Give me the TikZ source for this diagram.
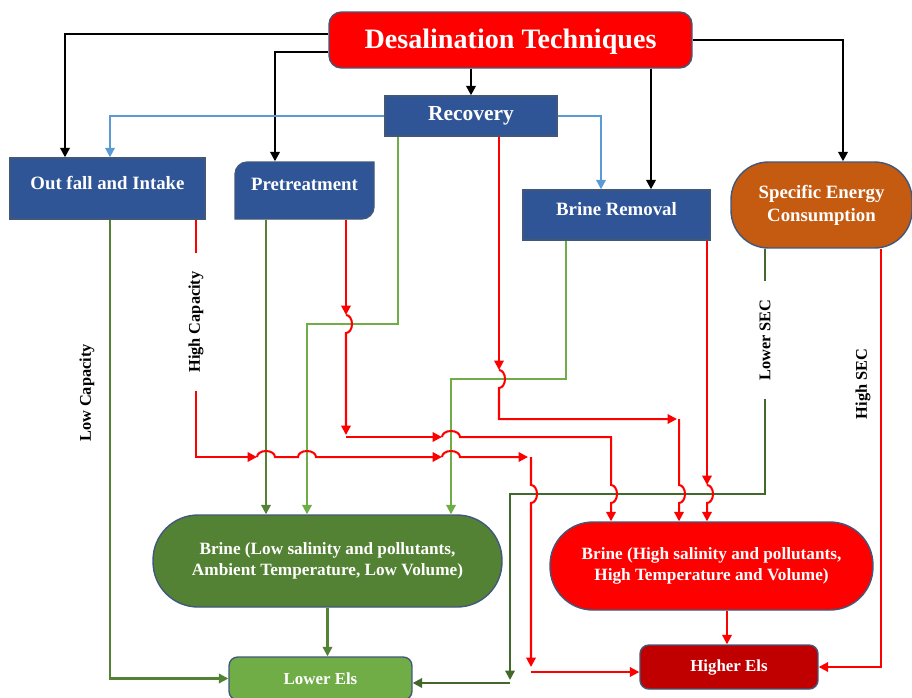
\documentclass[tikz,border=0pt]{standalone}
\usepackage{fontspec}
\setmainfont{Liberation Serif}
\usetikzlibrary{arrows.meta}

\definecolor{techred}{HTML}{FF0000}
\definecolor{boxblue}{HTML}{2F5597}
\definecolor{boxline}{HTML}{41587A}
\definecolor{secorange}{HTML}{C55A11}
\definecolor{brinegreen}{HTML}{548235}
\definecolor{lightgreen}{HTML}{70AD47}
\definecolor{darkred}{HTML}{C00000}
\definecolor{lightblue}{HTML}{5B9BD5}
\definecolor{secgreen}{HTML}{43682B}

\tikzset{
  box/.style={draw=boxline, line width=0.8pt, text=white, align=center, inner sep=0pt,
    font=\fontsize{10.7}{13}\selectfont\bfseries},
  arr/.style={-{Triangle[length=5.4pt,width=5.4pt]}},
  blkl/.style={draw=black, line width=1.3pt},
  bluel/.style={draw=lightblue, line width=1.2pt},
  greenl/.style={draw=brinegreen, line width=1.2pt},
  lgreenl/.style={draw=lightgreen, line width=1.2pt},
  secl/.style={draw=secgreen, line width=1.2pt},
  redl/.style={draw=red, line width=1.15pt},
  lbl/.style={rotate=90, inner xsep=10pt, font=\fontsize{9.3}{11}\selectfont\bfseries},
  hopup/.style={start angle=180, end angle=0, x radius=0.18cm, y radius=0.12cm},
  hopdn/.style={start angle=90, end angle=-90, x radius=0.12cm, y radius=0.18cm}
}

\begin{document}
\begin{tikzpicture}[x=0.02cm, y=-0.02cm]
% 1 unit = 1 pixel of the 912 x 697 frame, y going down
\useasboundingbox (0,0) rectangle (912,697);

% boxes
\node[box, fill=techred, rounded corners=7pt, minimum width=7.26cm, minimum height=1.12cm,
  text height=11pt, text depth=1pt,
  font=\fontsize{16}{19}\selectfont\bfseries] (tech) at (510.5,40) {Desalination Techniques};
\node[box, fill=boxblue, minimum width=3.44cm, minimum height=0.8cm,
  font=\fontsize{12.2}{14}\selectfont\bfseries] (recov) at (471,116) {Recovery};
\node[box, fill=boxblue, minimum width=3.9cm, minimum height=1.22cm,
  text height=7pt, text depth=6.2pt] (intake) at (107.5,188.5) {Out fall and Intake};
% round diagonal corners
\filldraw[fill=boxblue, draw=boxline, line width=0.8pt] (235,219) -- (235,190)
  [rounded corners=7pt] -- (235,162) -- (300,162) [sharp corners] -- (374,162) -- (374,190)
  [rounded corners=7pt] -- (374,219) -- (300,219) [sharp corners] -- cycle;
\node[box, draw=none, minimum width=2.78cm, minimum height=1.14cm,
  text height=7pt, text depth=7.4pt] (pretreat) at (304.5,190.5) {Pretreatment};
\node[box, fill=boxblue, minimum width=3.74cm, minimum height=1cm,
  text height=7pt, text depth=6.8pt] (brinerem) at (616.5,215) {Brine Removal};
\node[box, fill=secorange, rounded corners=0.75cm, minimum width=3.62cm, minimum height=1.72cm]
  (sec) at (821.5,205) {Specific Energy\\Consumption};
\node[box, fill=brinegreen, rounded corners=0.9cm, minimum width=6.98cm, minimum height=1.84cm,
  font=\fontsize{9.8}{12}\selectfont\bfseries] (brinelow) at (327.5,561)
  {Brine (Low salinity and pollutants,\\Ambient Temperature, Low Volume)};
\node[box, fill=red, rounded corners=0.86cm, minimum width=6.46cm, minimum height=1.76cm,
  font=\fontsize{9.8}{12}\selectfont\bfseries] (brinehigh) at (711.5,566)
  {Brine (High salinity and pollutants,\\High Temperature and Volume)};
\node[box, fill=lightgreen, rounded corners=5pt, minimum width=3.66cm, minimum height=0.86cm,
  font=\fontsize{9.6}{12}\selectfont\bfseries] (lowels) at (320.5,678.5) {Lower Els};
\node[box, fill=darkred, rounded corners=5pt, minimum width=3.56cm, minimum height=0.88cm,
  font=\fontsize{9.6}{12}\selectfont\bfseries] (highels) at (729,667) {Higher Els};

% labels
\node[lbl] (lowcap) at (87,393) {Low Capacity};
\node[lbl] (highcap) at (196,322) {High Capacity};
\node[lbl] (lowsec) at (765,340) {Lower SEC};
\node[lbl] (highsec) at (863,384) {High SEC};

% black
\draw[blkl,arr] (tech.west |- 0,34) -| (intake.north -| 65,0);
\draw[blkl,arr] (tech.west |- 0,52) -| (pretreat.north -| 275,0);
\draw[blkl,arr] (recov.north |- tech.south) -- (recov.north);
\draw[blkl,arr] (651,0 |- tech.south) -- (651,0 |- brinerem.north);
\draw[blkl,arr] (tech.east) -| (843,0 |- sec.north);

% blue
\draw[bluel,arr] (recov.west) -| (110,0 |- intake.north);
\draw[bluel,arr] (recov.east) -| (601,0 |- brinerem.north);

% green
\draw[greenl,arr] (110,0 |- intake.south) |- (lowels.west);
\draw[greenl,arr] (266,0 |- pretreat.south) -- (266,0 |- brinelow.north);
\draw[lgreenl,arr] (398,0 |- recov.south) |- (307,324) -- (307,0 |- brinelow.north);
\draw[lgreenl,arr] (566,0 |- brinerem.south) |- (451,379) -- (451,0 |- brinelow.north);
\draw[greenl,arr] (brinelow.south) -- (brinelow.south |- lowels.north);
\draw[secl] (765,0 |- sec.south) -- (lowsec.east);
\draw[secl,arr] (lowsec.west) |- (510,494) -- (510,680);
\draw[secl,arr] (510,683) -- (lowels.east |- 0,683);

% red, out fall and intake
\draw[redl] (196,0 |- intake.south) -- (highcap.east);
\draw[redl,arr] (highcap.west) |- (257,457);
\draw[redl,arr] (257,457) arc[hopup] -- (298,457) arc[hopup] -- (442,457);
\draw[redl,arr] (442,457) arc[hopup] -- (528,457);
\draw[redl,arr] (531,457) -- (531,485) arc[hopdn] -- (531,667);
\draw[redl,arr] (531,672) -- (highels.west |- 0,672);
% red, pretreatment
\draw[redl,arr] (346,0 |- pretreat.south) -- (346,315);
\draw[redl,arr] (346,315) arc[hopdn] -- (346,435);
\draw[redl,arr] (346,437) -- (442,437);
\draw[redl,arr] (442,437) arc[hopup] -- (611,437) -- (611,485) arc[hopdn] -- (611,0 |- brinehigh.north);
% red, recovery
\draw[redl,arr] (499,0 |- recov.south) -- (499,370);
\draw[redl,arr] (499,370) arc[hopdn] -- (499,419) -- (677,419);
\draw[redl,arr] (679,419) -- (679,485) arc[hopdn] -- (679,0 |- brinehigh.north);
% red, brine removal
\draw[redl,arr] (707,0 |- brinerem.south) -- (707,485);
\draw[redl,arr] (707,485) arc[hopdn] -- (707,0 |- brinehigh.north);
% red, energy
\draw[redl,arr] (881,0 |- sec.south) |- (highels.east);
\draw[redl,arr] (727,0 |- brinehigh.south) -- (727,0 |- highels.north);
\end{tikzpicture}
\end{document}
